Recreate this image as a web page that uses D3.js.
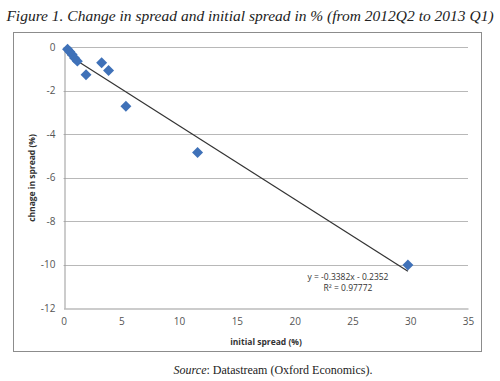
<!DOCTYPE html>
<html><head><meta charset="utf-8">
<script src="https://cdn.jsdelivr.net/npm/d3@7"></script>
<style>body{margin:0;background:#fff}svg{display:block}</style>
</head><body>
<svg id="c" width="500" height="381"></svg>
<script>
const initialSpread = [0.35, 0.55, 0.75, 0.95, 1.2, 1.95, 3.3, 3.9, 5.4, 11.6, 29.8];
const changeSpread  = [-0.1, -0.22, -0.35, -0.5, -0.65, -1.28, -0.72, -1.08, -2.72, -4.85, -10.02];
const xTicks = [0, 5, 10, 15, 20, 25, 30, 35];
const yTicks = [0, -2, -4, -6, -8, -10, -12];
const slope = -0.3382, intercept = -0.2352;
const eqLabel = "y = -0.3382x - 0.2352";
const r2Label = "R² = 0.97772";

const svg = d3.select("#c");
const x = d3.scaleLinear().domain([0, 35]).range([63.5, 468]);
const y = d3.scaleLinear().domain([-12, 0]).range([308, 47]);

// title
svg.append("text").attr("x", 250).attr("y", 21).attr("text-anchor", "middle")
  .attr("font-family", "'Liberation Serif', serif").attr("font-style", "italic")
  .attr("font-size", 15.5).attr("fill", "#222")
  .text("Figure 1. Change in spread and initial spread in % (from 2012Q2 to 2013 Q1)");

// outer box
svg.append("rect").attr("x", 13.5).attr("y", 32.5).attr("width", 468).attr("height", 319)
  .attr("fill", "none").attr("stroke", "#8c8c8c").attr("stroke-width", 1);

// gridlines
svg.append("g").selectAll("line").data(yTicks.filter(d => d !== -12)).join("line")
  .attr("x1", x(0)).attr("x2", x(35)).attr("y1", d => Math.round(y(d)) + 0.5).attr("y2", d => Math.round(y(d)) + 0.5)
  .attr("stroke", "#b8b8b8").attr("stroke-width", 1);

// axes
const fmt = d => String(d);
const gx = svg.append("g").attr("transform", `translate(0,${Math.round(y(-12)) + 0.5})`)
  .call(d3.axisBottom(x).tickValues(xTicks).tickFormat(fmt).tickSize(0).tickPadding(9));
const gy = svg.append("g").attr("transform", `translate(${Math.round(x(0)) + 0.5},0)`)
  .call(d3.axisLeft(y).tickValues(yTicks).tickFormat(fmt).tickSize(0).tickPadding(9));
[gx, gy].forEach(g => {
  g.select(".domain").attr("stroke", "#999");
  g.selectAll("text").attr("font-family", "'Open Sans', sans-serif").attr("font-size", 10).attr("fill", "#555");
});

// axis titles
svg.append("text").attr("x", 266).attr("y", 345).attr("text-anchor", "middle")
  .attr("font-family", "'Open Sans', sans-serif").attr("font-weight", "bold").attr("font-size", 8.5).attr("fill", "#333")
  .text("initial spread (%)");
svg.append("text").attr("transform", "translate(35,178) rotate(-90)").attr("text-anchor", "middle")
  .attr("font-family", "'Open Sans', sans-serif").attr("font-weight", "bold").attr("font-size", 8.5).attr("fill", "#333")
  .text("chnage in spread (%)");

// trendline
const xmin = d3.min(initialSpread), xmax = d3.max(initialSpread);
svg.append("line")
  .attr("x1", x(xmin)).attr("y1", y(slope * xmin + intercept))
  .attr("x2", x(xmax)).attr("y2", y(slope * xmax + intercept))
  .attr("stroke", "#333").attr("stroke-width", 1.2);

// points (square rotated 45° = Excel diamond)
const sym = d3.symbol().type(d3.symbolSquare).size(60);
svg.append("g").selectAll("path").data(initialSpread.map((v, i) => [v, changeSpread[i]])).join("path")
  .attr("d", sym).attr("transform", d => `translate(${x(d[0])},${y(d[1])}) rotate(45)`)
  .attr("fill", "#3f71b8");

// regression labels
svg.append("text").attr("x", 348).attr("y", 280).attr("text-anchor", "middle")
  .attr("font-family", "'Open Sans', sans-serif").attr("font-size", 8.5).attr("fill", "#333").text(eqLabel);
svg.append("text").attr("x", 348).attr("y", 291).attr("text-anchor", "middle")
  .attr("font-family", "'Open Sans', sans-serif").attr("font-size", 8.5).attr("fill", "#333").text(r2Label);

// source
const src = svg.append("text").attr("x", 273).attr("y", 374).attr("text-anchor", "middle")
  .attr("font-family", "'Liberation Serif', serif").attr("font-size", 12).attr("fill", "#222");
src.append("tspan").attr("font-style", "italic").text("Source");
src.append("tspan").text(": Datastream (Oxford Economics).");
</script>
</body></html>
